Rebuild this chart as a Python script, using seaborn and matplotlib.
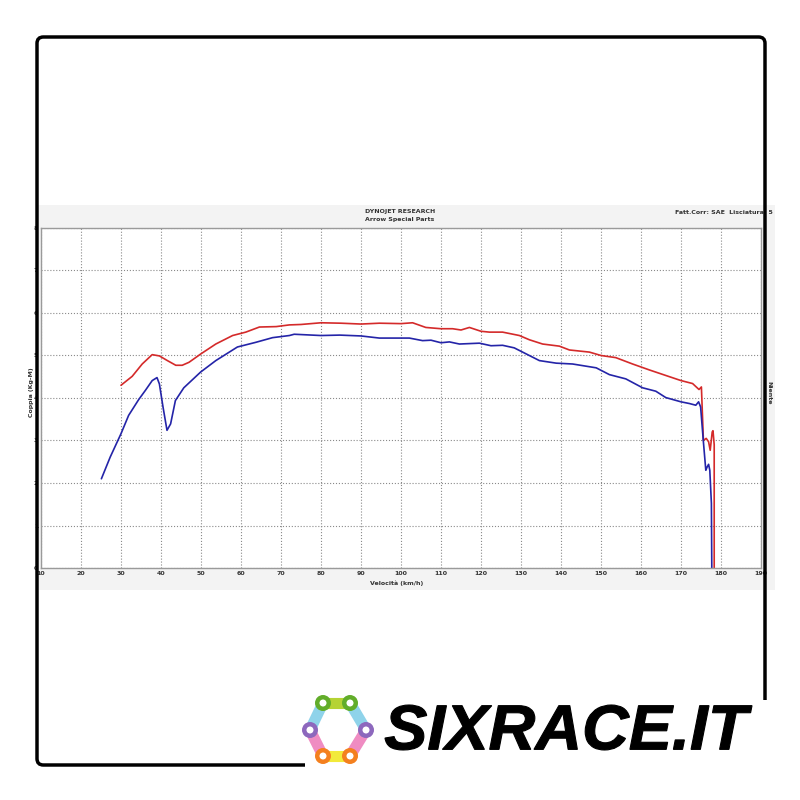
import numpy as np
import pandas as pd
import seaborn as sns
import matplotlib.pyplot as plt
from matplotlib.patches import FancyBboxPatch, Rectangle, Circle, PathPatch
from matplotlib.lines import Line2D
from matplotlib.textpath import TextPath
from matplotlib.font_manager import FontProperties
from matplotlib.transforms import Affine2D

# Dyno curves (speed km/h, torque kg-m)
red_speed = [30, 32.8, 35.3, 37.8, 39.6, 41.6, 43.7, 45.3, 47.0, 50, 53.7, 57.9, 61.2, 64.6,
             68.8, 72.1, 75, 80, 85, 90, 94.6, 100, 102.9, 106.2, 110, 112.9, 115, 117.1,
             120, 122.1, 125.4, 129.6, 132.1, 135.4, 139.6, 142.1, 147.1, 150, 153.7, 157.9,
             162.1, 166.2, 170, 172.9, 174.5, 175.1, 175.6, 176.3, 176.9, 177.3, 177.8,
             178.0, 178.3, 178.3]
red_torque = [4.30, 4.51, 4.80, 5.02, 4.99, 4.88, 4.77, 4.77, 4.84, 5.04, 5.27, 5.47, 5.55,
              5.67, 5.68, 5.72, 5.73, 5.77, 5.76, 5.74, 5.76, 5.75, 5.77, 5.66, 5.63, 5.63,
              5.60, 5.66, 5.57, 5.55, 5.55, 5.47, 5.37, 5.27, 5.22, 5.13, 5.08, 5.00, 4.95,
              4.80, 4.66, 4.53, 4.41, 4.34, 4.20, 4.26, 3.00, 3.05, 2.97, 2.77, 3.20, 3.23,
              2.90, 0]

blue_speed = [25.1, 27.3, 30, 31.9, 34.4, 36.1, 37.8, 39.0, 39.6, 40.5, 41.5, 42.4, 43.6,
              45.7, 49.9, 53.7, 59.1, 63.7, 67.9, 72.1, 73.3, 80, 84.7, 90, 94.6, 100, 102.1,
              105.4, 107.5, 110, 112.1, 114.6, 119.6, 122.5, 125.4, 128.3, 130.4, 134.6,
              138.8, 142.9, 148.8, 152.1, 156.2, 160.4, 163.7, 166.2, 170, 172.1, 173.7,
              174.4, 174.9, 175.6, 176.2, 176.5, 176.9, 177.2, 177.6, 177.7]
blue_torque = [2.10, 2.61, 3.16, 3.59, 3.96, 4.18, 4.41, 4.48, 4.33, 3.79, 3.24, 3.39, 3.94,
               4.24, 4.61, 4.88, 5.20, 5.31, 5.42, 5.47, 5.50, 5.47, 5.48, 5.46, 5.41, 5.41,
               5.41, 5.35, 5.36, 5.30, 5.32, 5.27, 5.29, 5.23, 5.24, 5.18, 5.08, 4.88, 4.82,
               4.80, 4.71, 4.55, 4.45, 4.24, 4.16, 4.01, 3.91, 3.87, 3.83, 3.91, 3.79, 2.97,
               2.30, 2.37, 2.44, 2.30, 1.52, 0]

x_ticks = list(range(10, 200, 10))
y_ticks = list(range(0, 9))

sns.set_style("white")
plt.rcParams['font.family'] = ['DejaVu Sans']

fig = plt.figure(figsize=(8, 8), dpi=100)


def fx(px):
    return px / 800


def fy(py):
    return 1 - py / 800


# grey panel of the dyno screenshot
fig.add_artist(Rectangle((fx(37), fy(590)), fx(775) - fx(37), fy(205) - fy(590),
                         transform=fig.transFigure, fc='#f3f3f3', ec='none', zorder=-5))

ax = fig.add_axes([fx(41), fy(568), fx(761) - fx(41), fy(228) - fy(568)])
ax.set_facecolor('white')

df_red = pd.DataFrame({'speed': red_speed, 'torque': red_torque})
df_blue = pd.DataFrame({'speed': blue_speed, 'torque': blue_torque})
sns.lineplot(data=df_red, x='speed', y='torque', sort=False, estimator=None,
             color='#d42a2a', lw=1.2, ax=ax)
sns.lineplot(data=df_blue, x='speed', y='torque', sort=False, estimator=None,
             color='#2424a8', lw=1.2, ax=ax)

ax.set_xlim(10, 190)
ax.set_ylim(0, 8)
ax.set_xticks(x_ticks)
ax.set_yticks(y_ticks)
ax.set_xticks(np.arange(10, 191, 1), minor=True)
ax.set_yticks(np.arange(0, 8.01, 0.2), minor=True)
ax.set_xticklabels([str(t) for t in x_ticks], fontsize=4.5, fontweight='bold')
ax.set_yticklabels([str(t) for t in y_ticks], fontsize=4.5, fontweight='bold')
ax.tick_params(axis='both', which='major', direction='in', length=3, width=0.6, pad=2,
               colors='#555555', labelcolor='#333333')
ax.tick_params(axis='both', which='minor', direction='in', length=1.5, width=0.4,
               colors='#777777')
ax.grid(True, which='major', ls=':', lw=0.8, color='#8a8a8a')
for s in ax.spines.values():
    s.set_color('#9a9a9a')
    s.set_linewidth(1.0)
ax.set_xlabel('')
ax.set_ylabel('')

# texts of the dyno sheet
fig.text(fx(400), fy(212), 'DYNOJET RESEARCH', ha='center', va='center', fontsize=4.5,
         fontweight='bold', color='#333333')
fig.text(fx(400), fy(219), 'Arrow Special Parts', ha='center', va='center', fontsize=4.5,
         fontweight='bold', color='#333333')
fig.text(fx(773), fy(212), 'Fatt.Corr: SAE  Lisciatura: 5', ha='right', va='center',
         fontsize=4.5, fontweight='bold', color='#333333')
fig.text(fx(32), fy(392), 'Coppia (Kg-M)', ha='center', va='center', rotation=90,
         fontsize=4.5, fontweight='bold', color='#333333')
fig.text(fx(769), fy(393), 'Niente', ha='center', va='center', rotation=-90,
         fontsize=4.5, fontweight='bold', color='#333333')
fig.text(fx(397), fy(583), 'Velocità (km/h)', ha='center', va='center', fontsize=4.5,
         fontweight='bold', color='#333333')

# outer rounded frame
fig.add_artist(FancyBboxPatch((fx(37), fy(765)), fx(765) - fx(37), fy(37) - fy(765),
                              boxstyle='round,pad=0,rounding_size=0.008',
                              transform=fig.transFigure, fc='none', ec='black', lw=2.5,
                              zorder=10))
# logo area covers the bottom right corner
fig.add_artist(Rectangle((fx(305), 0), 1 - fx(305), fy(700), transform=fig.transFigure,
                         fc='white', ec='none', zorder=11))

# chain logo
rings = {'g1': (323, 703), 'g2': (350, 703), 'p1': (310, 730), 'p2': (366, 730),
         'o1': (323, 756), 'o2': (350, 756)}
links = [('g1', 'g2', '#b5d334'), ('g1', 'p1', '#8fd3ea'), ('g2', 'p2', '#8fd3ea'),
         ('p1', 'o1', '#ef8cc2'), ('p2', 'o2', '#ef8cc2'), ('o1', 'o2', '#f2ea3a')]
for a, b, c in links:
    (x1, y1), (x2, y2) = rings[a], rings[b]
    fig.add_artist(Line2D([fx(x1), fx(x2)], [fy(y1), fy(y2)], transform=fig.transFigure,
                          color=c, lw=8, solid_capstyle='butt', zorder=12))
ring_col = {'g': '#62ad2a', 'p': '#8d68bd', 'o': '#f4801f'}
for k, (x, y) in rings.items():
    fig.add_artist(Circle((fx(x), fy(y)), 8 / 800, transform=fig.transFigure,
                          fc=ring_col[k[0]], ec='none', zorder=13))
    fig.add_artist(Circle((fx(x), fy(y)), 3.5 / 800, transform=fig.transFigure,
                          fc='white', ec='none', zorder=14))

# brand text stretched to the box it fills in the reference
tp = TextPath((0, 0), 'SIXRACE.IT', size=1,
              prop=FontProperties(family='Liberation Sans', weight='bold', style='italic'))
ext = tp.get_extents()
sx = (fx(752) - fx(385)) / ext.width
sy = (fy(705) - fy(750)) / ext.height
tr = Affine2D().translate(-ext.x0, -ext.y0).scale(sx, sy).translate(fx(385), fy(750))
fig.add_artist(PathPatch(tr.transform_path(tp), transform=fig.transFigure, fc='black',
                         ec='black', lw=0.8, zorder=15))

fig.savefig('out.png', dpi=100, facecolor='white')
